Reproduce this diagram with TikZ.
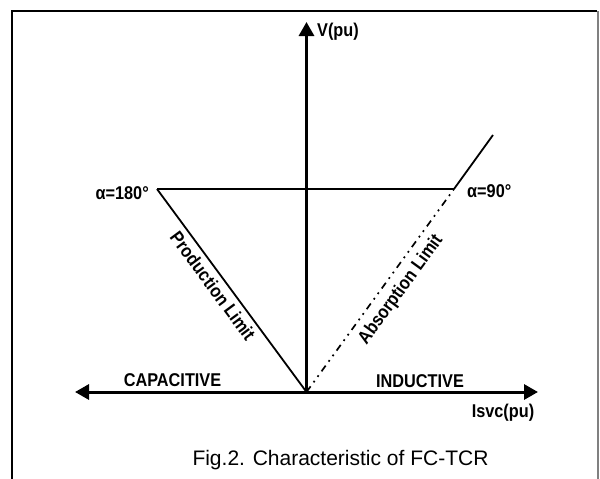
\documentclass[tikz,border=0pt]{standalone}
\usepackage{fontspec}
\setmainfont{Liberation Sans}
\newfontfamily\lblfont[FakeStretch=0.88]{Liberation Sans}
\usetikzlibrary{arrows.meta}
\begin{document}
\begin{tikzpicture}[x=1pt,y=-1pt,
  axisline/.style={line width=3pt},
  curve/.style={line width=1.8pt},
  lbl/.style={font=\lblfont\fontsize{18.5}{20}\selectfont\bfseries, inner sep=0pt},
  figcap/.style={font=\fontsize{21}{24}\selectfont, inner sep=0pt},
  dashdotdot/.style={line width=1.7pt, dash pattern=on 7pt off 5pt on 1.8pt off 5pt on 1.8pt off 5pt}]
\useasboundingbox (0,0) rectangle (600,479);
% frame
\draw[line width=2pt] (12,479) -- (12,11) -- (597,11);
\draw[gray, line width=1.2pt] (598,11) -- (598,479);
% points
\coordinate (O) at (306.5,392);
\coordinate (Ltip) at (75,392);
\coordinate (Rtip) at (538,392);
\coordinate (Vtip) at (306.5,22);
\coordinate (A) at (157,189);
\coordinate (B) at (454,189);
\coordinate (C) at (493,135);
% characteristic
\draw[curve] (A) -- (B);
\draw[curve] (A) -- (O);
\draw[curve] (B) -- (C);
\draw[dashdotdot] (O) -- (B);
% axes
\draw[axisline, {Triangle[length=14pt,width=15pt]}-{Triangle[length=14pt,width=15pt]}] (Ltip) -- (Rtip);
\draw[axisline, -{Triangle[length=14pt,width=15pt]}] (O) -- (Vtip);
% labels
\node[lbl, anchor=base] (capac) at (172.5,386) {CAPACITIVE};
\node[lbl, anchor=base] (induc) at (420,387) {INDUCTIVE};
\node[lbl, anchor=base] (isvc) at (503,417) {Isvc(pu)};
\node[lbl, anchor=base west] (vpu) at (317,36) {V(pu)};
\node[lbl, anchor=base east] (a180) at (149,199) {α=180°};
\node[lbl, anchor=base west] (a90) at (467,197) {α=90°};
\node[lbl, rotate=-53.5] (prod) at (213,286) {Production Limit};
\node[lbl, rotate=54] (absorb) at (401,290) {Absorption Limit};
\node[figcap, anchor=base] (fig) at (340.5,465) {Fig.2. Characteristic of FC-TCR};
\end{tikzpicture}
\end{document}
